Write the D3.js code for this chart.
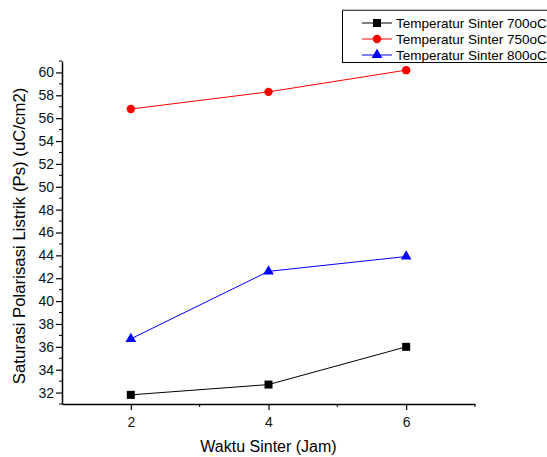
<!DOCTYPE html>
<html>
<head>
<meta charset="utf-8">
<script src="https://cdn.jsdelivr.net/npm/d3@7"></script>
<style>
  body { margin: 0; background: #fff; }
  text { font-family: Arial, "Liberation Sans", sans-serif; }
</style>
</head>
<body>
<div id="chart"></div>
<script>
// data
const hours = [2, 4, 6];
const temp700 = [31.8, 32.7, 36.0];
const temp750 = [56.8, 58.3, 60.2];
const temp800 = [36.7, 42.6, 43.9];
const seriesNames = ['Temperatur Sinter 700oC', 'Temperatur Sinter 750oC', 'Temperatur Sinter 800oC'];
const xTicks = [2, 4, 6];
const yTicks = [32, 34, 36, 38, 40, 42, 44, 46, 48, 50, 52, 54, 56, 58, 60];

const W = 547, H = 457;
const MARGIN = { top: 61, right: 72, bottom: 53, left: 62 };

const series = [
    { name: seriesNames[0], values: temp700, color: '#000000', symbol: d3.symbolSquare, size: 64 },
    { name: seriesNames[1], values: temp750, color: '#ff0000', symbol: d3.symbolCircle, size: 56 },
    { name: seriesNames[2], values: temp800, color: '#0000ff', symbol: d3.symbolTriangle, size: 50 },
];

const x = d3.scaleLinear().domain([1, 7]).range([MARGIN.left, W - MARGIN.right]);
const y = d3.scaleLinear().domain([31, 61]).range([H - MARGIN.bottom, MARGIN.top]);

const svg = d3.select('#chart').append('svg')
    .attr('width', W)
    .attr('height', H);

// x axis
const xAxis = svg.append('g')
    .attr('transform', `translate(0, ${H - MARGIN.bottom})`)
    .call(d3.axisBottom(x).tickValues(xTicks).tickSize(6).tickSizeOuter(0).tickFormat(d3.format('d')));
xAxis.append('g').selectAll('line')
    .data([3, 5, 7])
    .join('line')
    .attr('x1', d => x(d)).attr('x2', d => x(d))
    .attr('y1', 0).attr('y2', 3)
    .attr('stroke', '#000');

// y axis
const yAxis = svg.append('g')
    .attr('transform', `translate(${MARGIN.left}, 0)`)
    .call(d3.axisLeft(y).tickValues(yTicks).tickSize(6).tickSizeOuter(0));
yAxis.append('g').selectAll('line')
    .data(d3.range(31, 62, 2))
    .join('line')
    .attr('y1', d => y(d)).attr('y2', d => y(d))
    .attr('x1', 0).attr('x2', -3)
    .attr('stroke', '#000');

[xAxis, yAxis].forEach(a => {
    a.attr('font-size', null).attr('font-family', null);
    a.select('.domain').attr('stroke', '#000').attr('stroke-width', 1.5);
    a.selectAll('.tick line').attr('stroke', '#000').attr('stroke-width', 1.2);
    a.selectAll('.tick text').attr('fill', '#111').style('font-size', '14px');
});
xAxis.selectAll('.tick text').attr('dy', '1.0em');
yAxis.selectAll('.tick text').attr('x', -8);

// titles
svg.append('text')
    .attr('x', x(4))
    .attr('y', 452)
    .attr('text-anchor', 'middle')
    .style('font-size', '16px')
    .text('Waktu Sinter (Jam)');

svg.append('text')
    .attr('transform', `translate(25, ${y(45.7)}) rotate(-90)`)
    .attr('text-anchor', 'middle')
    .style('font-size', '16.8px')
    .text('Saturasi Polarisasi Listrik (Ps) (uC/cm2)');

// lines and markers
const line = d3.line()
    .x((d, i) => x(hours[i]))
    .y(d => y(d));

series.forEach(s => {
    svg.append('path')
        .attr('d', line(s.values))
        .attr('fill', 'none')
        .attr('stroke', s.color)
        .attr('stroke-width', 1);
    svg.append('g').selectAll('path')
        .data(s.values)
        .join('path')
        .attr('transform', (d, i) => `translate(${x(hours[i])}, ${y(d)})`)
        .attr('d', d3.symbol().type(s.symbol).size(s.size))
        .attr('fill', s.color);
});

// legend
const legend = svg.append('g').attr('transform', 'translate(342, 10)');
legend.append('rect')
    .attr('x', 0.5).attr('y', 0.5)
    .attr('width', 230).attr('height', 52)
    .attr('fill', '#fff')
    .attr('stroke', '#000');
legend.append('line')
    .attr('x1', 0).attr('x2', 230)
    .attr('y1', 0).attr('y2', 0)
    .attr('stroke', '#888').attr('stroke-width', 1);

series.forEach((s, i) => {
    const row = legend.append('g').attr('transform', `translate(0, ${13 + i * 16})`);
    row.append('line')
        .attr('x1', 20).attr('x2', 50)
        .attr('stroke', s.color);
    row.append('path')
        .attr('transform', 'translate(35, 0)')
        .attr('d', d3.symbol().type(s.symbol).size(s.size))
        .attr('fill', s.color);
    row.append('text')
        .attr('x', 54)
        .attr('dy', '0.35em')
        .style('font-size', '13.5px')
        .text(s.name);
});
</script>
</body>
</html>
